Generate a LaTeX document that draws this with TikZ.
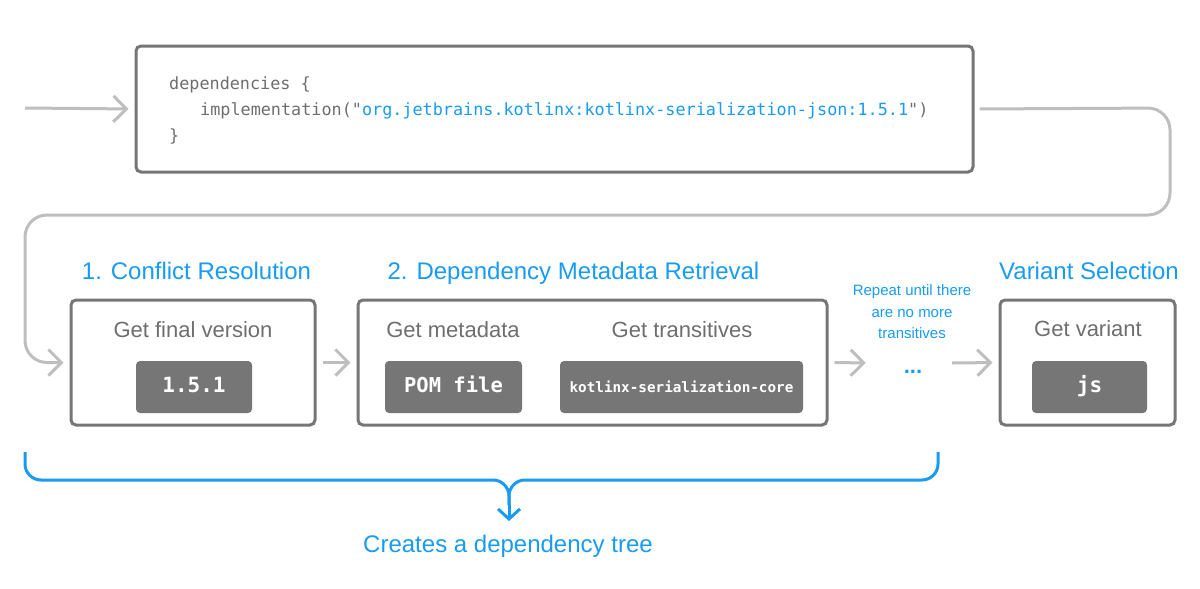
\documentclass[tikz,border=0pt]{standalone}
\usepackage{fontspec}
\setmainfont{Liberation Sans}
\setmonofont{DejaVu Sans Mono}
\usetikzlibrary{arrows.meta}
\definecolor{boxgray}{RGB}{118,118,118}
\definecolor{flowgray}{RGB}{190,190,190}
\definecolor{txtgray}{RGB}{110,110,110}
\definecolor{bluec}{RGB}{24,155,240}
\tikzset{
  stagebox/.style={draw=boxgray, line width=3pt, rounded corners=5pt, inner sep=0pt},
  btnbox/.style={fill=boxgray, rounded corners=4pt, inner sep=0pt, text=white,
     font=\ttfamily\bfseries, text height=1.15em, text depth=0pt},
  flow/.style={draw=flowgray, line width=3pt, -{Straight Barb[length=13pt,width=26pt,line width=3pt]},
     shorten >=6pt},
  titletxt/.style={text=bluec, font=\fontsize{24}{28}\selectfont, inner sep=0pt, anchor=base},
  labeltxt/.style={text=txtgray, font=\fontsize{22}{26}\selectfont, inner sep=0pt, anchor=base},
  codetxt/.style={font=\ttfamily\fontsize{16.8}{20}\selectfont, text=txtgray, inner sep=0pt, anchor=base west},
  bracel/.style={draw=bluec, line width=3pt, rounded corners=16pt},
}
\begin{document}
\begin{tikzpicture}[x=1pt,y=-1pt]
\useasboundingbox (0,0) rectangle (1200,589);
% code box
\node[stagebox, minimum width=837pt, minimum height=126pt] (code) at (554.5,109) {};
\node[codetxt] (c1) at (169,89) {dependencies \{};
\node[codetxt] (c2) at (200,115) {implementation("\textcolor{bluec}{org.jetbrains.kotlinx:kotlinx-serialization-json:1.5.1}")};
\node[codetxt] (c3) at (169,141) {\}};
\coordinate (in) at (25,108);
\draw[flow] (in) -- (code.west);
% stage boxes
\node[stagebox, minimum width=244pt, minimum height=125pt] (b1) at (193,362.5) {};
\node[stagebox, minimum width=469pt, minimum height=125pt] (b2) at (592.5,362.5) {};
\node[stagebox, minimum width=175pt, minimum height=125pt] (b3) at (1087.5,362.5) {};
% titles
\node[titletxt] (t1) at (196.5,279.5) {1. Conflict Resolution};
\node[titletxt] (t2) at (573.5,279.5) {2. Dependency Metadata Retrieval};
\node[titletxt] (t3) at (1089,279.5) {Variant Selection};
% labels
\node[labeltxt] (l1) at (193,337) {Get final version};
\node[labeltxt] (l2) at (453,337) {Get metadata};
\node[labeltxt] (l3) at (682,337) {Get transitives};
\node[labeltxt] (l4) at (1088,336) {Get variant};
% buttons
\node[btnbox, minimum width=116pt, minimum height=52pt, font=\ttfamily\bfseries\fontsize{21}{24}\selectfont] (v1) at (194,387) {1.5.1};
\node[btnbox, minimum width=137pt, minimum height=52pt, font=\ttfamily\bfseries\fontsize{20.5}{24}\selectfont] (pom) at (453.5,387) {POM file};
\node[btnbox, minimum width=243pt, minimum height=52pt, font=\ttfamily\bfseries\fontsize{14.3}{18}\selectfont] (kot) at (681.5,387) {kotlinx-serialization-core};
\node[btnbox, minimum width=115pt, minimum height=52pt, font=\ttfamily\bfseries\fontsize{21}{24}\selectfont] (js) at (1089.5,387) {js};
% repeat text and dots
\node[text=bluec, font=\fontsize{15}{21.5}\selectfont, align=center, inner sep=0pt, anchor=base] (rep) at (912,338.5) {Repeat until there\\are no more\\transitives};
\node[minimum width=80pt, minimum height=20pt, inner sep=0pt] (dots) at (912,363) {};
\node[text=bluec, font=\bfseries\fontsize{22}{24}\selectfont, inner sep=0pt, anchor=base] (dt) at (913,373) {...};
% flow connectors
\coordinate (r1) at (1170,108);
\coordinate (r2) at (1170,215);
\coordinate (r3) at (25,215);
\coordinate (r4) at (25,362.5);
\draw[flow, rounded corners=22pt, shorten <=5pt] (code.east) -- (r1) -- (r2) -- (r3) -- (r4) -- (b1.west);
\draw[flow, shorten <=6pt] (b1.east) -- (b2.west);
\draw[flow, shorten <=6pt] (b2.east) -- (dots.west);
\draw[flow, shorten <=0pt] (dots.east) -- (b3.west);
% brace
\coordinate (bl) at (25,452);
\coordinate (br) at (938,452);
\coordinate (bll) at (25,480);
\coordinate (brr) at (938,480);
\coordinate (bm) at (509,480);
\coordinate (bd) at (509,505);
\draw[bracel] (bl) -- (bll) -- (bm) -- (bd);
\draw[bracel] (br) -- (brr) -- (bm) -- (bd);
\node[text=bluec, font=\fontsize{24}{28}\selectfont, inner sep=0pt, anchor=base] (tree) at (508,552) {Creates a dependency tree};
\draw[draw=bluec, line width=3pt, -{Straight Barb[length=10pt,width=22pt,line width=3pt]}] (bd) -- (509,521);
\end{tikzpicture}
\end{document}
